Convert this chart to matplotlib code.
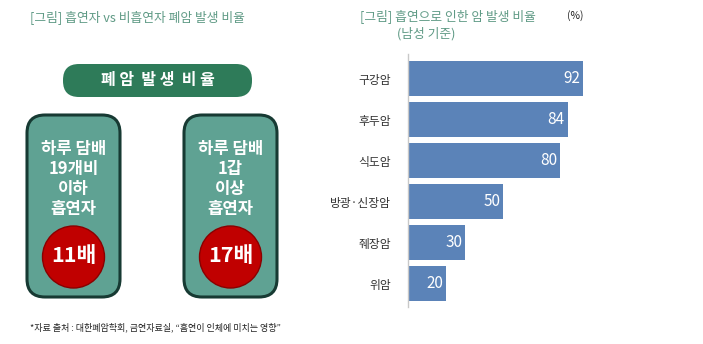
import matplotlib
matplotlib.use('Agg')
import matplotlib.pyplot as plt
from matplotlib.patches import FancyBboxPatch, Circle

plt.rcParams['font.family'] = ['Noto Sans CJK KR', 'DejaVu Sans']

# data
cancers = ['구강암', '후두암', '식도암', '방광·신장암', '췌장암', '위암']
rates = [92, 84, 80, 50, 30, 20]
groups = ['하루 담배\n19개비\n이하\n흡연자', '하루 담배\n1갑\n이상\n흡연자']
multiples = ['11배', '17배']

fig = plt.figure(figsize=(7.03, 3.44), dpi=100)

# overlay axes in pixel coords for the left infographic
bg = fig.add_axes([0, 0, 1, 1])
bg.set_xlim(0, 703)
bg.set_ylim(344, 0)
bg.axis('off')

title_col = '#5f9a85'
bg.text(30, 17, '[그림] 흡연자 vs 비흡연자 폐암 발생 비율', fontsize=9.2, color=title_col,
        va='center', ha='left')

# green pill
pill = FancyBboxPatch((63, 64), 189, 33, boxstyle='round,pad=0,rounding_size=16',
                      fc='#2e7b59', ec='none')
bg.add_patch(pill)
bg.text(157.5, 80.5, '폐 암  발 생  비 율', fontsize=11.5, color='white', weight='bold',
        ha='center', va='center')

box_x = [27, 184]
for i, (lab, mul) in enumerate(zip(groups, multiples)):
    x0 = box_x[i]
    box = FancyBboxPatch((x0 + 18, 115 + 18), 93 - 36, 182 - 36,
                         boxstyle='round,pad=18', fc='#5fa293', ec='#173a33', lw=2.2)
    bg.add_patch(box)
    cx = x0 + 46.5
    bg.text(cx, 179, lab, fontsize=12, color='white', weight='bold', ha='center',
            va='center', linespacing=1.15)
    bg.add_patch(Circle((cx, 257), 31, fc='#c00000', ec='#8a0000', lw=1))
    bg.text(cx, 256, mul, fontsize=15.5, color='white', weight='bold', ha='center',
            va='center')

bg.text(30, 327, '*자료 출처 : 대한폐암학회, 금연자료실, \u201c흡연이 인체에 미치는 영향\u201d',
        fontsize=6.5, color='#222222', ha='left', va='center')

# right titles
bg.text(360, 16, '[그림] 흡연으로 인한 암 발생 비율', fontsize=9.2, color=title_col,
        ha='left', va='center')
bg.text(397, 34, '(남성 기준)', fontsize=9.2, color=title_col, ha='left', va='center')
bg.text(575, 16, '(%)', fontsize=7.5, color='#222222', ha='center', va='center')

# bar chart
px_per_unit = 1.9
ax_left, ax_right = 408, 660
ax_top, ax_bot = 54, 307
ax = fig.add_axes([ax_left / 703, 1 - ax_bot / 344, (ax_right - ax_left) / 703,
                   (ax_bot - ax_top) / 344])
ax.patch.set_alpha(0)
ypos = list(range(len(cancers)))
ax.barh(ypos, rates, height=0.85, color='#5b83b8')
ax.set_xlim(0, (ax_right - ax_left) / px_per_unit)
ax.set_ylim(5.57, -0.6)
for y, v in zip(ypos, rates):
    ax.text(v - 1.5, y, str(v), color='white', fontsize=11, ha='right', va='center')
ax.set_yticks(ypos)
ax.set_yticklabels(cancers, fontsize=8.5, color='#333333')
ax.tick_params(axis='y', length=0, pad=12)
ax.set_xticks([])
for s in ['top', 'right', 'bottom']:
    ax.spines[s].set_visible(False)
ax.spines['left'].set_color('#c8c8c8')
ax.spines['left'].set_linewidth(1)

fig.savefig('out.png', dpi=100)
